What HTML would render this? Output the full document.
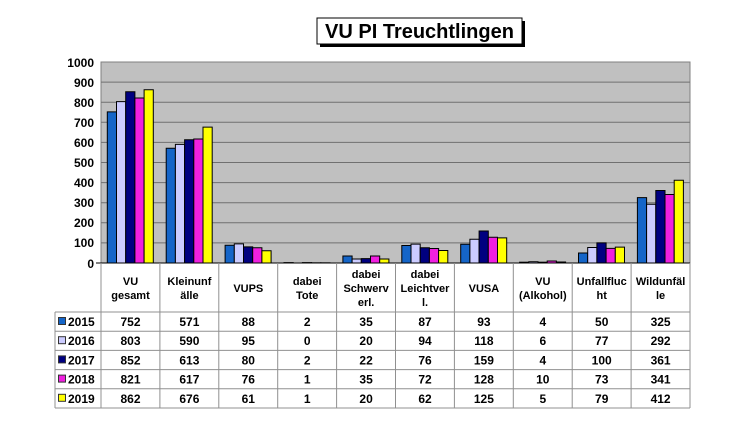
<!DOCTYPE html>
<html><head><meta charset="utf-8"><style>
html,body{margin:0;padding:0;background:#fff;}
svg{display:block;font-family:"Liberation Sans",Arial,sans-serif;}
</style></head><body>
<svg width="750" height="430" viewBox="0 0 750 430" xmlns="http://www.w3.org/2000/svg">
<rect x="320" y="21" width="205" height="26" fill="#000"/>
<rect x="317" y="18" width="205" height="26" fill="#fff" stroke="#000" stroke-width="1"/>
<text x="419.5" y="38" text-anchor="middle" font-size="20" font-weight="bold">VU PI Treuchtlingen</text>

<rect x="101" y="62" width="589" height="201" fill="#c0c0c0" stroke="#808080"/>
<g stroke="#707070" stroke-width="1">
<line x1="101" x2="690" y1="82.1" y2="82.1"/><line x1="101" x2="690" y1="102.2" y2="102.2"/>
<line x1="101" x2="690" y1="122.3" y2="122.3"/><line x1="101" x2="690" y1="142.4" y2="142.4"/>
<line x1="101" x2="690" y1="162.5" y2="162.5"/><line x1="101" x2="690" y1="182.6" y2="182.6"/>
<line x1="101" x2="690" y1="202.7" y2="202.7"/><line x1="101" x2="690" y1="222.8" y2="222.8"/>
<line x1="101" x2="690" y1="242.9" y2="242.9"/>
</g>
<g font-size="12" font-weight="bold" text-anchor="end">
<text x="94" y="67">1000</text><text x="94" y="87">900</text><text x="94" y="107">800</text>
<text x="94" y="127">700</text><text x="94" y="147">600</text><text x="94" y="167">500</text>
<text x="94" y="187">400</text><text x="94" y="207">300</text><text x="94" y="227">200</text>
<text x="94" y="247">100</text><text x="94" y="268">0</text>
</g>
<g transform="translate(101,263) scale(1,-0.201)" stroke="#000" stroke-width="1">
<g fill="#1565c8">
<rect vector-effect="non-scaling-stroke" x="6.3" width="9.2" y="0" height="752"/>
<rect vector-effect="non-scaling-stroke" x="65.2" width="9.2" y="0" height="571"/>
<rect vector-effect="non-scaling-stroke" x="124.1" width="9.2" y="0" height="88"/>
<rect vector-effect="non-scaling-stroke" x="183" width="9.2" y="0" height="2"/>
<rect vector-effect="non-scaling-stroke" x="241.9" width="9.2" y="0" height="35"/>
<rect vector-effect="non-scaling-stroke" x="300.8" width="9.2" y="0" height="87"/>
<rect vector-effect="non-scaling-stroke" x="359.7" width="9.2" y="0" height="93"/>
<rect vector-effect="non-scaling-stroke" x="418.6" width="9.2" y="0" height="4"/>
<rect vector-effect="non-scaling-stroke" x="477.5" width="9.2" y="0" height="50"/>
<rect vector-effect="non-scaling-stroke" x="536.4" width="9.2" y="0" height="325"/>
</g>
<g fill="#ccccff" transform="translate(9.2,0)">
<rect vector-effect="non-scaling-stroke" x="6.3" width="9.2" y="0" height="803"/>
<rect vector-effect="non-scaling-stroke" x="65.2" width="9.2" y="0" height="590"/>
<rect vector-effect="non-scaling-stroke" x="124.1" width="9.2" y="0" height="95"/>
<rect vector-effect="non-scaling-stroke" x="183" width="9.2" y="0" height="0"/>
<rect vector-effect="non-scaling-stroke" x="241.9" width="9.2" y="0" height="20"/>
<rect vector-effect="non-scaling-stroke" x="300.8" width="9.2" y="0" height="94"/>
<rect vector-effect="non-scaling-stroke" x="359.7" width="9.2" y="0" height="118"/>
<rect vector-effect="non-scaling-stroke" x="418.6" width="9.2" y="0" height="6"/>
<rect vector-effect="non-scaling-stroke" x="477.5" width="9.2" y="0" height="77"/>
<rect vector-effect="non-scaling-stroke" x="536.4" width="9.2" y="0" height="292"/>
</g>
<g fill="#000080" transform="translate(18.4,0)">
<rect vector-effect="non-scaling-stroke" x="6.3" width="9.2" y="0" height="852"/>
<rect vector-effect="non-scaling-stroke" x="65.2" width="9.2" y="0" height="613"/>
<rect vector-effect="non-scaling-stroke" x="124.1" width="9.2" y="0" height="80"/>
<rect vector-effect="non-scaling-stroke" x="183" width="9.2" y="0" height="2"/>
<rect vector-effect="non-scaling-stroke" x="241.9" width="9.2" y="0" height="22"/>
<rect vector-effect="non-scaling-stroke" x="300.8" width="9.2" y="0" height="76"/>
<rect vector-effect="non-scaling-stroke" x="359.7" width="9.2" y="0" height="159"/>
<rect vector-effect="non-scaling-stroke" x="418.6" width="9.2" y="0" height="4"/>
<rect vector-effect="non-scaling-stroke" x="477.5" width="9.2" y="0" height="100"/>
<rect vector-effect="non-scaling-stroke" x="536.4" width="9.2" y="0" height="361"/>
</g>
<g fill="#f020e0" transform="translate(27.6,0)">
<rect vector-effect="non-scaling-stroke" x="6.3" width="9.2" y="0" height="821"/>
<rect vector-effect="non-scaling-stroke" x="65.2" width="9.2" y="0" height="617"/>
<rect vector-effect="non-scaling-stroke" x="124.1" width="9.2" y="0" height="76"/>
<rect vector-effect="non-scaling-stroke" x="183" width="9.2" y="0" height="1"/>
<rect vector-effect="non-scaling-stroke" x="241.9" width="9.2" y="0" height="35"/>
<rect vector-effect="non-scaling-stroke" x="300.8" width="9.2" y="0" height="72"/>
<rect vector-effect="non-scaling-stroke" x="359.7" width="9.2" y="0" height="128"/>
<rect vector-effect="non-scaling-stroke" x="418.6" width="9.2" y="0" height="10"/>
<rect vector-effect="non-scaling-stroke" x="477.5" width="9.2" y="0" height="73"/>
<rect vector-effect="non-scaling-stroke" x="536.4" width="9.2" y="0" height="341"/>
</g>
<g fill="#ffff00" transform="translate(36.8,0)">
<rect vector-effect="non-scaling-stroke" x="6.3" width="9.2" y="0" height="862"/>
<rect vector-effect="non-scaling-stroke" x="65.2" width="9.2" y="0" height="676"/>
<rect vector-effect="non-scaling-stroke" x="124.1" width="9.2" y="0" height="61"/>
<rect vector-effect="non-scaling-stroke" x="183" width="9.2" y="0" height="1"/>
<rect vector-effect="non-scaling-stroke" x="241.9" width="9.2" y="0" height="20"/>
<rect vector-effect="non-scaling-stroke" x="300.8" width="9.2" y="0" height="62"/>
<rect vector-effect="non-scaling-stroke" x="359.7" width="9.2" y="0" height="125"/>
<rect vector-effect="non-scaling-stroke" x="418.6" width="9.2" y="0" height="5"/>
<rect vector-effect="non-scaling-stroke" x="477.5" width="9.2" y="0" height="79"/>
<rect vector-effect="non-scaling-stroke" x="536.4" width="9.2" y="0" height="412"/>
</g>
</g>
<line x1="96" x2="690" y1="263" y2="263" stroke="#000"/>

<!-- table -->
<g stroke="#909090" stroke-width="1" fill="none">
<line x1="101" x2="101" y1="263" y2="408"/>
<line x1="159.9" x2="159.9" y1="263" y2="408"/><line x1="218.8" x2="218.8" y1="263" y2="408"/>
<line x1="277.7" x2="277.7" y1="263" y2="408"/><line x1="336.6" x2="336.6" y1="263" y2="408"/>
<line x1="395.5" x2="395.5" y1="263" y2="408"/><line x1="454.4" x2="454.4" y1="263" y2="408"/>
<line x1="513.3" x2="513.3" y1="263" y2="408"/><line x1="572.2" x2="572.2" y1="263" y2="408"/>
<line x1="631.1" x2="631.1" y1="263" y2="408"/><line x1="690" x2="690" y1="263" y2="408"/>
<line x1="55" x2="55" y1="312" y2="408"/>
<line x1="55" x2="690" y1="312" y2="312"/><line x1="55" x2="690" y1="331.2" y2="331.2"/>
<line x1="55" x2="690" y1="350.4" y2="350.4"/><line x1="55" x2="690" y1="369.6" y2="369.6"/>
<line x1="55" x2="690" y1="388.8" y2="388.8"/><line x1="55" x2="690" y1="408" y2="408"/>
</g>
<g font-size="11" font-weight="bold" text-anchor="middle">
<text x="130.5" y="285">VU</text><text x="130.5" y="299">gesamt</text>
<text x="189.4" y="285">Kleinunf</text><text x="189.4" y="299">älle</text>
<text x="248.3" y="292">VUPS</text>
<text x="307.2" y="285">dabei</text><text x="307.2" y="299">Tote</text>
<text x="366.1" y="278">dabei</text><text x="366.1" y="292">Schwerv</text><text x="366.1" y="306">erl.</text>
<text x="425" y="278">dabei</text><text x="425" y="292">Leichtver</text><text x="425" y="306">l.</text>
<text x="483.9" y="292">VUSA</text>
<text x="542.8" y="285">VU</text><text x="542.8" y="299">(Alkohol)</text>
<text x="601.7" y="285">Unfallfluc</text><text x="601.7" y="299">ht</text>
<text x="660.6" y="285">Wildunfäl</text><text x="660.6" y="299">le</text>
</g>
<g stroke="#333" stroke-width="1">
<rect x="58.5" y="317.5" width="7" height="7" fill="#1565c8"/>
<rect x="58.5" y="336.7" width="7" height="7" fill="#ccccff"/>
<rect x="58.5" y="355.9" width="7" height="7" fill="#000080"/>
<rect x="58.5" y="375.1" width="7" height="7" fill="#f020e0"/>
<rect x="58.5" y="394.3" width="7" height="7" fill="#ffff00"/>
</g>
<g font-size="12" font-weight="bold">
<text x="68" y="326">2015</text><text x="68" y="345.2">2016</text><text x="68" y="364.4">2017</text>
<text x="68" y="383.6">2018</text><text x="68" y="402.8">2019</text>
</g>
<g font-size="12" font-weight="bold" text-anchor="middle">
<g transform="translate(0,326)"><text x="130.5">752</text><text x="189.4">571</text><text x="248.3">88</text><text x="307.2">2</text><text x="366.1">35</text><text x="425">87</text><text x="483.9">93</text><text x="542.8">4</text><text x="601.7">50</text><text x="660.6">325</text></g>
<g transform="translate(0,345.2)"><text x="130.5">803</text><text x="189.4">590</text><text x="248.3">95</text><text x="307.2">0</text><text x="366.1">20</text><text x="425">94</text><text x="483.9">118</text><text x="542.8">6</text><text x="601.7">77</text><text x="660.6">292</text></g>
<g transform="translate(0,364.4)"><text x="130.5">852</text><text x="189.4">613</text><text x="248.3">80</text><text x="307.2">2</text><text x="366.1">22</text><text x="425">76</text><text x="483.9">159</text><text x="542.8">4</text><text x="601.7">100</text><text x="660.6">361</text></g>
<g transform="translate(0,383.6)"><text x="130.5">821</text><text x="189.4">617</text><text x="248.3">76</text><text x="307.2">1</text><text x="366.1">35</text><text x="425">72</text><text x="483.9">128</text><text x="542.8">10</text><text x="601.7">73</text><text x="660.6">341</text></g>
<g transform="translate(0,402.8)"><text x="130.5">862</text><text x="189.4">676</text><text x="248.3">61</text><text x="307.2">1</text><text x="366.1">20</text><text x="425">62</text><text x="483.9">125</text><text x="542.8">5</text><text x="601.7">79</text><text x="660.6">412</text></g>
</g>
</svg>
</body></html>
